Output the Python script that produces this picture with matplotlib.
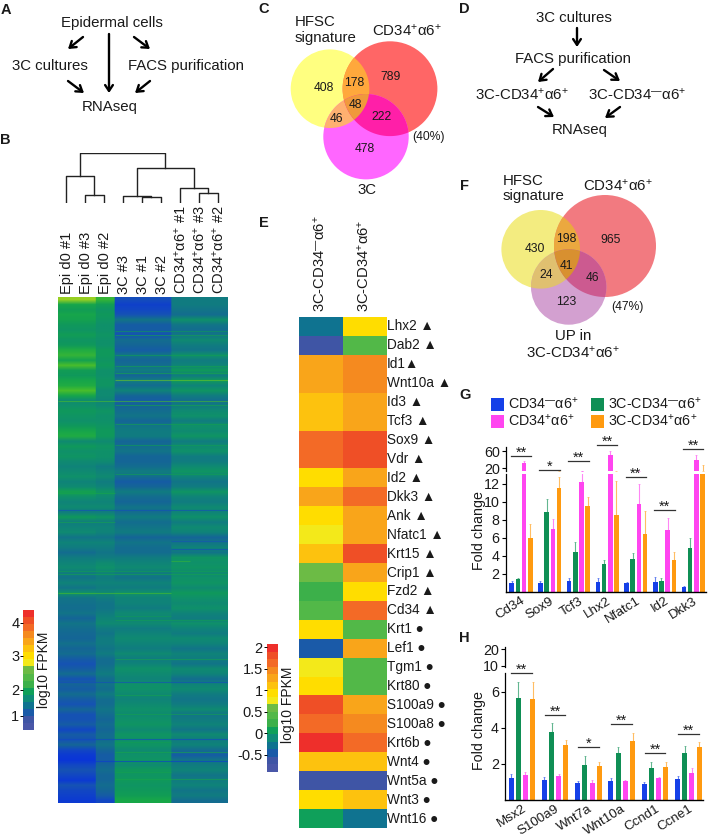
import numpy as np
import matplotlib
matplotlib.use("Agg")
import matplotlib.pyplot as plt
from matplotlib.colors import ListedColormap, LinearSegmentedColormap, Normalize
from matplotlib.patches import Circle, Polygon, Rectangle

plt.rcParams['font.family'] = ['Liberation Sans', 'DejaVu Sans']
plt.rcParams['mathtext.fontset'] = 'custom'
plt.rcParams['mathtext.rm'] = 'Liberation Sans'
plt.rcParams['mathtext.default'] = 'rm'

W, H = 709, 838
POS = 'CD34$^{+}$α6$^{+}$'
NEG = 'CD34$^{\u2014}$α6$^{+}$'

# ---- panel B data: log10 FPKM read band by band, top to bottom
epi_a = [2.8,2.3,2.1,2.3,2.2,2.0,1.9,2.1,1.9,2.0,
         2.4,2.5,2.2,2.6,2.1,2.0,2.3,2.4,2.6,2.3,
         1.7,1.8,2.0,1.9,1.8,2.0,2.3,2.4,1.7,2.0,
         1.8,1.9,1.7,1.6,1.7,1.8,1.6,1.7,2.2,1.8,
         1.6,1.7,1.5,2.0,1.5,1.6,1.7,1.4,1.6,1.5,
         1.3,1.5,1.6,1.7,1.5,1.4,1.6,1.4,1.8,1.4,
         1.35,1.3,1.4,1.2,1.4,1.3,1.25,1.2,1.35,1.2,
         1.3,1.1,1.0,1.1,1.3,1.0,1.2,1.1,1.3,1.1,
         1.0,1.2,1.0,1.0,1.1,0.9,1.1,1.0,1.2,0.9,
         0.8,0.75,0.9,1.0,0.9,0.8,1.0,0.9,0.85,0.8]
epi_b = [2.5,2.1,1.9,2.0,1.9,1.8,1.8,1.9,1.8,1.8,
         2.0,2.0,1.9,2.0,1.8,1.8,1.9,1.9,1.7,1.7,
         1.6,1.7,1.9,1.8,1.8,1.9,2.0,2.0,1.7,1.9,
         1.8,1.8,1.7,1.5,1.6,1.7,1.5,1.6,1.9,1.7,
         1.6,1.7,1.5,1.9,1.5,1.6,1.6,1.4,1.6,1.5,
         1.4,1.5,1.7,1.8,1.6,1.5,1.6,1.5,1.7,1.5,
         1.4,1.4,1.5,1.6,1.7,1.5,1.4,1.5,1.5,1.4,
         1.5,1.3,1.3,1.4,1.5,1.3,1.4,1.3,1.5,1.3,
         1.3,1.4,1.3,1.2,1.3,1.2,1.3,1.3,1.4,1.2,
         1.1,1.1,1.2,1.3,1.2,1.2,1.3,1.2,1.1,0.9]
threec = [0.95,0.85,0.9,1.0,1.4,1.1,1.1,1.0,1.3,1.2,
          1.1,1.4,1.2,1.3,1.5,1.2,1.5,1.3,1.6,1.2,
          1.1,1.2,1.3,1.4,1.2,1.4,1.5,1.5,1.2,1.3,
          1.4,1.2,1.2,1.3,1.5,1.3,1.1,1.2,1.5,1.3,
          1.2,1.4,1.3,1.5,1.3,1.4,1.5,1.2,1.4,1.3,
          1.3,1.5,1.6,1.7,1.5,1.4,1.6,1.5,1.8,1.6,
          1.6,1.5,1.7,1.6,1.7,1.5,1.6,1.7,1.6,1.5,
          1.7,1.5,1.6,1.8,1.7,1.6,1.8,1.8,1.7,1.6,
          1.7,1.8,1.7,1.8,1.9,1.7,1.9,1.8,1.9,1.7,
          1.8,1.9,1.7,2.0,1.9,2.0,1.9,2.0,2.1,2.35]
cd34 = [1.5,1.5,1.4,1.3,1.8,1.4,1.3,1.4,1.7,1.5,
        1.4,1.8,1.5,1.6,2.0,1.5,2.0,1.6,1.9,1.5,
        1.3,1.5,1.7,1.8,1.5,1.8,1.7,1.9,1.5,1.7,
        1.8,1.5,1.5,1.7,1.9,1.6,1.4,1.5,1.9,1.6,
        1.5,1.7,1.6,1.8,1.5,1.7,1.6,1.2,1.4,1.6,
        1.4,1.9,1.8,1.9,1.7,1.8,1.9,1.7,2.0,1.8,
        1.7,1.8,1.6,1.5,1.8,1.6,1.5,1.7,1.6,1.4,
        1.6,1.5,1.4,1.7,1.6,1.3,1.6,1.7,1.5,1.4,
        1.5,1.7,1.4,1.5,1.6,1.4,1.7,1.5,1.6,1.3,
        1.1,1.4,1.5,1.6,1.4,1.5,1.6,1.4,1.5,1.3]
# thin streaks seen in the heatmap: row (0-100), value, first column, last column
streak_row = [7.1,10.9,13.1,14.5,15.9,20.1,20.8,24.5,34.5,38.2,44.0,47.7,49.3,51.6,53.6,54.2,
              57.9,62.5,63.4,71.0,75.6,78.2,81.9,86.8,87.4,89.5,91.2,93.4,94.7,6.2,28.8,41.5]
streak_val = [2.2,2.1,2.2,2.3,2.7,2.6,2.3,2.2,2.1,2.3,2.2,1.0,0.95,2.5,2.1,2.2,
              2.6,2.0,2.1,2.2,0.95,2.2,2.2,0.9,2.1,2.3,0.8,2.2,2.3,2.0,2.1,0.95]
streak_first = [3,3,3,3,3,0,3,3,3,0,0,6,6,6,0,0,0,3,3,3,0,3,3,0,3,3,0,3,3,3,3,0]
streak_last = [8,8,8,8,8,8,8,8,8,2,2,8,8,6,8,8,5,5,8,8,8,5,8,8,5,8,8,5,8,8,8,8]
sample_labels = ['Epi d0 #1','Epi d0 #3','Epi d0 #2','3C #3','3C #1','3C #2',
                 POS+' #1',POS+' #3',POS+' #2']
# dendrogram merges (left node, right node, height), new nodes numbered from 9
merges = [(1,2,23),(0,9,80),(4,5,18),(3,11,20),(7,8,29),(6,13,45),(12,14,107),(10,15,150)]

# ---- panel E data
genes = ['Lhx2 ▲','Dab2 ▲','Id1▲','Wnt10a ▲','Id3 ▲','Tcf3 ▲','Sox9 ▲','Vdr ▲','Id2 ▲',
         'Dkk3 ▲','Ank ▲','Nfatc1 ▲','Krt15 ▲','Crip1 ▲','Fzd2 ▲','Cd34 ▲','Krt1 ●','Lef1 ●',
         'Tgm1 ●','Krt80 ●','S100a9 ●','S100a8 ●','Krt6b ●','Wnt4 ●','Wnt5a ●','Wnt3 ●','Wnt16 ●']
e_neg = [-.3,-.7,1.25,1.25,1.1,1.1,1.6,1.6,.9,1.25,.9,.75,1.1,.55,.2,.4,.9,-.5,.75,.9,1.75,1.65,1.95,1.1,-.7,.9,0]
e_pos = [.9,.4,1.4,1.4,1.25,1.25,1.8,1.8,1.25,1.65,1.25,1.25,1.8,1.25,.9,1.65,.4,1.25,.4,.4,1.25,1.4,1.65,1.1,-.7,1.1,-.3]
level_colors = ['#4a57a8','#3f55a5','#1a5aa8','#0f7390','#0f8c78','#0fa05a','#3cb04a','#52b848','#6cbb45',
                '#f3e91a','#ffdd00','#fdc20e','#f9a51a','#f58a1f','#f36a26','#ef4f26','#ee2f2b']

# ---- panels G and H data
g_genes = ['Cd34','Sox9','Tcf3','Lhx2','Nfatc1','Id2','Dkk3']
g_neg = [1.0,1.0,1.2,1.1,0.95,1.1,0.5]
g_3cneg = [1.4,8.9,4.4,3.1,3.7,1.2,4.9]
g_pos = [32,7.0,12.2,50,9.8,6.9,38]
g_3cpos = [6.0,11.5,9.5,8.6,6.4,3.5,14]
g_neg_err = [.2,.2,.3,.4,.2,.6,.2]
g_3cneg_err = [.2,1.4,1.1,.4,.6,.3,1.1]
g_pos_err = [4,1.1,1.0,10,2.2,1.3,13]
g_3cpos_err = [1.6,1.3,1.1,3.7,2.6,.9,13]
g_stars = ['**','*','**','**','**','**','**']

h_genes = ['Msx2','S100a9','Wnt7a','Wnt10a','Ccnd1','Ccne1']
h_neg = [1.2,1.1,.95,1.05,.88,1.15]
h_3cneg = [5.65,3.75,1.95,2.6,1.8,2.6]
h_pos = [1.4,1.35,.95,1.05,1.2,1.5]
h_3cpos = [5.6,3.05,1.9,3.25,1.85,2.95]
h_neg_err = [.25,.2,.13,.15,.1,.2]
h_3cneg_err = [.9,.5,.5,.35,.33,.4]
h_pos_err = [.15,.1,.15,.07,.1,.25]
h_3cpos_err = [.95,.3,.2,.45,.25,.25]
h_stars = ['**','**','*','**','**','**']

bar_colors = ['#1540e8','#0f8f55','#ff45f0','#ff9a10']

fig = plt.figure(figsize=(W/100, H/100), dpi=100)

def px_axes(x0, y0, x1, y1):
    # axes from pixel box, y measured from the top of the picture
    return fig.add_axes([x0/W, 1-y1/H, (x1-x0)/W, (y1-y0)/H])

over = px_axes(0, 0, W, H)
over.set_xlim(0, W)
over.set_ylim(H, 0)
over.axis('off')
over.set_zorder(10)
over.patch.set_alpha(0)

def T(x, y, s, size=10.8, ha='center', va='center', **kw):
    over.text(x, y, s, fontsize=size, ha=ha, va=va, color='#1a1a1a', **kw)

def arrow(x0, y0, x1, y1):
    over.annotate('', xy=(x1, y1), xytext=(x0, y0),
                  arrowprops=dict(arrowstyle='->,head_length=0.42,head_width=0.28', lw=1.7, color='k',
                                  shrinkA=0, shrinkB=0))

for x, y, s in [(5.7,10,'A'),(5.7,140,'B'),(264,9,'C'),(464.3,9,'D'),(264,222.7,'E'),
                (464.3,186,'F'),(465,395,'G'),(464,638,'H')]:
    T(x, y, s, size=10.5, fontweight='bold')

# A
T(111.7,22.7,'Epidermal cells')
T(50,66,'3C cultures')
T(186,66,'FACS purification')
T(110,106.7,'RNAseq')
for a in [(83,37,68,49),(109,34,109,93),(134,37,150,49),(68,81,84,93),(150,81,135,93)]:
    arrow(*a)

# B heatmap
b_cmap = LinearSegmentedColormap.from_list('b', [(0,'#0a35d8'),(.1,'#1650b8'),(.2,'#156498'),(.3,'#127488'),
                                                 (.4,'#0f8478'),(.5,'#0f9268'),(.6,'#109a58'),(.75,'#18a848'),
                                                 (.88,'#50c028'),(1,'#c0d820')])
b_norm = Normalize(0.75, 2.9)
columns = [epi_a, epi_a, epi_b, threec, threec, threec, cd34, cd34, cd34]
b_matrix = np.repeat(np.array(columns).T, 19, axis=1)
ax = px_axes(58, 297, 228, 803)
ax.imshow(b_matrix, aspect='auto', cmap=b_cmap, norm=b_norm, interpolation='bilinear',
          extent=[-0.5, 8.5, 99.5, -0.5])
for r, v, c0, c1 in zip(streak_row, streak_val, streak_first, streak_last):
    ax.hlines(r, c0-.5, c1+.5, color=b_cmap(b_norm(v)), lw=.8, alpha=.6)
ax.set_xlim(-0.5, 8.5)
ax.set_ylim(99.5, -0.5)
ax.axis('off')

# dendrogram
ax = px_axes(56.2, 153.3, 227.2, 203)
ax.set_xlim(-0.5, 8.5)
ax.set_ylim(0, 150)
ax.axis('off')
node_x = list(range(9))
node_h = [0]*9
for l, r, h in merges:
    ax.plot([node_x[l], node_x[l], node_x[r], node_x[r]], [node_h[l], h, h, node_h[r]], color='#222222', lw=1.0)
    node_x.append((node_x[l]+node_x[r])/2)
    node_h.append(h)
for i, s in enumerate(sample_labels):
    T(66.7+19*i, 294, s, size=10.5, rotation=90, va='bottom')

def level_bar(box, vmin, vmax):
    ax = px_axes(*box)
    ax.imshow(np.arange(17).reshape(-1, 1), origin='lower', aspect='auto', extent=[0, 1, vmin, vmax],
              cmap=ListedColormap(level_colors), interpolation='nearest')
    ax.set_xticks([])
    for sp in ax.spines.values():
        sp.set_visible(False)
    ax.tick_params(axis='y', length=2, width=.7, pad=1, labelsize=10.5, labelcolor='#1a1a1a')
    return ax

cb = level_bar((23.5, 610, 34, 730), 0, 17)
cb.set_yticks([2.0, 5.7, 10.5, 15.2], ['1', '2', '3', '4'])
T(44, 670, 'log10 FPKM', size=10, rotation=90)

# C venn
def lens(circles, color):
    # filled overlap of convex circles, built from outline points inside all of them
    pts = []
    ang = np.linspace(0, 2*np.pi, 720)
    for c in circles:
        p = np.c_[c[0]+c[2]*np.cos(ang), c[1]+c[2]*np.sin(ang)]
        ok = np.ones(len(p), bool)
        for o in circles:
            if o is not c:
                ok &= np.hypot(p[:,0]-o[0], p[:,1]-o[1]) <= o[2]+1e-6
        pts.append(p[ok])
    pts = np.vstack(pts)
    m = pts.mean(axis=0)
    pts = pts[np.argsort(np.arctan2(pts[:,1]-m[1], pts[:,0]-m[0]))]
    over.add_patch(Polygon(pts, closed=True, fc=color, ec='none'))

def venn(a, b, c, cols):
    for circ, col in zip((a, b, c), cols[:3]):
        over.add_patch(Circle(circ[:2], circ[2], fc=col, ec='none'))
    lens([a, b], cols[3])
    lens([a, c], cols[4])
    lens([b, c], cols[5])
    lens([a, b, c], cols[6])

venn((330,88.7,39.3), (390,88.7,47.4), (366,136.7,42.7),
     ['#ffff80','#ff6666','#ff66ff','#ffa83c','#ffb070','#ff1fa8','#f0993c'])
T(294.3,22,'HFSC',ha='left')
T(294.3,37.7,'signature',ha='left')
T(406.7,31,POS)
for x, y, s in [(324,88,'408'),(354,83.3,'178'),(391,77.3,'789'),(355.3,105,'48'),(336.7,118.7,'46'),
                (382,117,'222'),(364.7,148.7,'478')]:
    T(x, y, s, size=8.7)
T(428.7,136.7,'(40%)',size=8.7)
T(367.3,190,'3C')

# D
T(574.3,18,'3C cultures')
T(572.7,59.3,'FACS purification')
T(521.7,94.7,'3C-'+POS)
T(637.3,94.7,'3C-'+NEG)
T(579.3,130,'RNAseq')
for a in [(577,28,577,47),(553,69,538,82),(604,70,620,81),(538,107,554,117),(620,107,605,118)]:
    arrow(*a)

# F venn
venn((540.7,249.3,39.3), (605,246,51), (568.7,287,37.7),
     ['#f3ec80','#f27a80','#d3a0d0','#eba83f','#e0c070','#cc5a90','#d89030'])
T(502.7,181,'HFSC',ha='left')
T(502.7,196,'signature',ha='left')
T(618.3,185.7,POS)
for x, y, s in [(534.7,248.7,'430'),(566,239.3,'198'),(610.3,240,'965'),(566,265.7,'41'),(545.7,275,'24'),
                (592,277.7,'46'),(566.3,301.7,'123')]:
    T(x, y, s, size=8.7)
T(627.3,306.7,'(47%)',size=8.7)
T(572.7,336,'UP in')
T(572.7,352.7,'3C-'+POS)

# E heatmap
e_matrix = np.array([e_neg, e_pos]).T
ax = px_axes(299, 317, 386, 828)
ax.imshow(e_matrix, aspect='auto', cmap=ListedColormap(level_colors), norm=Normalize(-.9, 2.07), interpolation='nearest')
ax.axis('off')
row_h = (828-317)/len(genes)
for i, g in enumerate(genes):
    T(387, 317+row_h*(i+.5), g, size=9.8, ha='left')
T(319.3, 312, '3C-'+NEG, size=10.6, rotation=90, va='bottom')
T(363.3, 312, '3C-'+POS, size=10.6, rotation=90, va='bottom')
cb = level_bar((267, 644, 278, 772), -.9, 2.07)
cb.set_yticks([-.5, 0, .5, 1, 1.5, 2], ['-0.5', '0', '0.5', '1', '1.5', '2'])
T(288, 705, 'log10 FPKM', size=10, rotation=90)

# bars
def bars(ax, x0, step, width, vals, errs):
    for j in range(4):
        xs = np.arange(len(vals[j])) + x0 + j*step
        ax.bar(xs, vals[j], width, color=bar_colors[j])
        ax.errorbar(xs, vals[j], yerr=[np.zeros(len(errs[j])), errs[j]], fmt='none', ecolor=bar_colors[j],
                    elinewidth=.8, capsize=.8, capthick=.5, alpha=.65)

def broken_chart(left, right, up_box, low_box, up_lim, low_lim, first, group, step, width, vals, errs, names,
                 up_ticks, low_ticks, stars, star_y, ylab_y):
    xl = (left-first)/group
    xr = (right-first)/group
    up = px_axes(left, up_box[0], right, up_box[1])
    low = px_axes(left, low_box[0], right, low_box[1])
    for ax, lim in ((up, up_lim), (low, low_lim)):
        bars(ax, 0, step/group, width/group, vals, errs)
        ax.set_xlim(xl, xr)
        ax.set_ylim(*lim)
        ax.spines['top'].set_visible(False)
        ax.spines['right'].set_visible(False)
        ax.spines['left'].set_linewidth(.9)
        ax.patch.set_alpha(0)
        ax.tick_params(axis='y', length=3, width=.8, pad=1.5, labelsize=10.3, labelcolor='#1a1a1a')
    up.spines['bottom'].set_visible(False)
    up.set_xticks([])
    up.set_yticks(up_ticks)
    low.set_yticks(low_ticks)
    low.spines['bottom'].set_linewidth(1.0)
    low.set_xticks(np.arange(len(names)) + 1.5*step/group, names, rotation=32, ha='right', rotation_mode='anchor')
    low.tick_params(axis='x', length=0, pad=2, labelsize=9.6, labelcolor='#1a1a1a')
    T(478.5, ylab_y, 'Fold change', size=10.3, rotation=90)
    for i, (s, y) in enumerate(zip(stars, star_y)):
        c = first + group*i + 1.5*step
        over.plot([c-10.3, c+10.3], [y, y], color='#333333', lw=.9)
        T(c, y-3, s, size=10.5)

broken_chart(506, 706, (447, 471), (474, 592), (13, 69.4), (0, 13.1), 511.7, 28.7, 6.2, 4.6,
             [g_neg, g_3cneg, g_pos, g_3cpos], [g_neg_err, g_3cneg_err, g_pos_err, g_3cpos_err], g_genes,
             [20, 60], [2, 4, 6, 8, 10, 12], g_stars, [456, 470, 461, 445, 477, 510, 449], 530)
broken_chart(505, 703, (647, 667), (673, 800), (9.4, 21.2), (0, 7.05), 511, 33.3, 7.2, 5,
             [h_neg, h_3cneg, h_pos, h_3cpos], [h_neg_err, h_3cneg_err, h_pos_err, h_3cpos_err], h_genes,
             [10, 20], [2, 4, 6], h_stars, [673, 715, 747, 724, 753, 734], 730)

# legend of G
for x, y, col, s in [(491,398,bar_colors[0],NEG),(491,415,bar_colors[2],POS),
                     (591,398,bar_colors[1],'3C-'+NEG),(591,415,bar_colors[3],'3C-'+POS)]:
    over.add_patch(Rectangle((x, y), 13, 12.5, fc=col, ec='none'))
    T(x+17, y+6, s, size=10.3, ha='left')

fig.savefig('out.png', dpi=100)
